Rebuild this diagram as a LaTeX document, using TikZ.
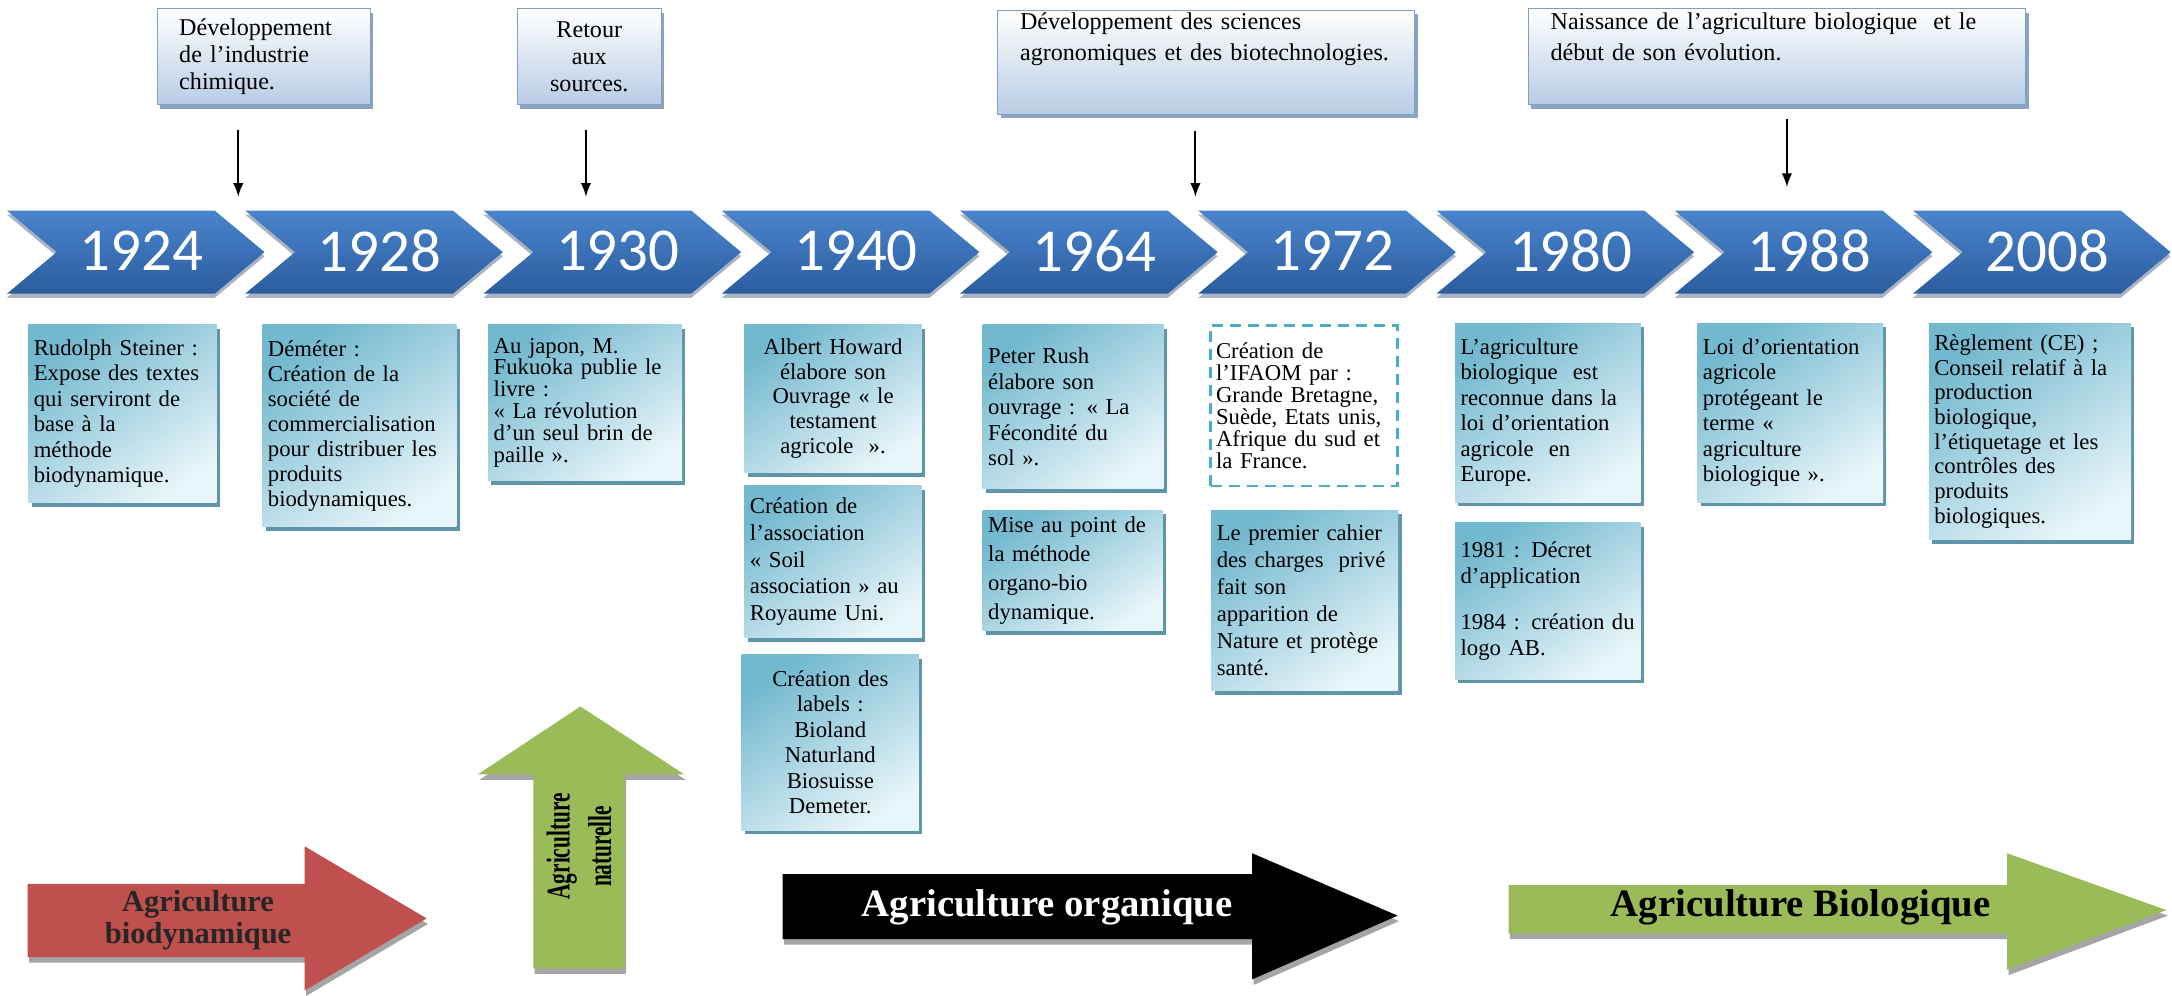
\documentclass[tikz,border=0pt]{standalone}
\usepackage{fontspec}
\setmainfont{Liberation Serif}
\newfontfamily\yearfont{Carlito}
\usepackage{graphicx}
\usetikzlibrary{arrows}
\usetikzlibrary{shadows}
\definecolor{ChevTop}{HTML}{4A84CC}
\definecolor{ChevBottom}{HTML}{2B5C9F}
\definecolor{ChevShadow}{HTML}{A9B4C2}
\definecolor{TopFill}{HTML}{B8CCE4}
\definecolor{TopEdge}{HTML}{7F9FC8}
\definecolor{TopShadow}{HTML}{8BA3BF}
\definecolor{DetDark}{HTML}{72B8CF}
\definecolor{DetLight}{HTML}{E8F5F9}
\definecolor{DetShadow}{HTML}{5E95A8}
\definecolor{DashCyan}{HTML}{4BACC6}
\definecolor{BioRed}{HTML}{C0504D}
\definecolor{BioGreen}{HTML}{9BBB59}
\definecolor{ArrowShade}{HTML}{A5A5A5}

\begin{document}
\begin{tikzpicture}[x=0.5pt, y=-0.5pt,
  topbox/.style={anchor=north west, draw=TopEdge, top color=white, bottom color=TopFill,
    inner xsep=8pt, inner ysep=0pt, font=\fontsize{8.7}{9.8}\selectfont,
    drop shadow={shadow xshift=1pt, shadow yshift=-1.5pt, fill=TopShadow, opacity=1}},
  note/.style={anchor=north west, inner xsep=2pt, inner ysep=1pt, align=left,
    font=\fontsize{8.2}{9.2}\selectfont},
  detail/.style={note, top color=DetDark, bottom color=DetLight, shading angle=35,
    drop shadow={shadow xshift=1.2pt, shadow yshift=-1.5pt, fill=DetShadow, opacity=1}},
  dashbox/.style={note, fill=white, draw=DashCyan, line width=0.9pt, dash pattern=on 4pt off 2.5pt},
  year/.style={text=white, font=\yearfont\fontsize{22}{24}\selectfont},
  pointer/.style={-latex, line width=0.7pt},
  arrowshape/.style={preaction={fill=ArrowShade, transform canvas={xshift=0.5pt, yshift=-2pt}}},
  banner/.style={font=\bfseries\fontsize{14}{16}\selectfont, align=center}]

  \useasboundingbox (0,0) rectangle (1568,719);

  % timeline
  \foreach \yr [count=\i from 0] in {1924,1928,1930,1940,1964,1972,1980,1988,2008}{%
    \pgfmathsetmacro{\xs}{5+172*\i}
    \shade[top color=ChevTop, bottom color=ChevBottom,
      preaction={fill=ChevShadow, transform canvas={yshift=-1.5pt}}]
      (\xs,152) -- ++(150,0) -- ++(36,30) -- ++(-36,30) -- ++(-150,0) -- ++(36,-30) -- cycle;
    \node[year] (y\yr) at (\xs+97,181) {\yr};
  }

  % periods above the timeline
  \node[topbox, align=left, text width=61pt, minimum height=34.5pt] (t1) at (113,6)
    {Développement\\de l’industrie\\chimique.};
  \node[topbox, align=center, text width=36pt, minimum height=34.5pt] (t2) at (373,6)
    {Retour\\aux\\sources.};
  \node[topbox, align=left, text width=134.5pt, minimum height=37.5pt,
    font=\fontsize{8.7}{11}\selectfont] (t3) at (720,7)
    {Développement des sciences\\agronomiques et des biotechnologies.\\[4pt]\strut};
  \node[topbox, align=left, text width=163.5pt, minimum height=34.5pt,
    font=\fontsize{8.7}{11}\selectfont] (t4) at (1103,6)
    {Naissance de l’agriculture biologique~ et le\\début de son évolution.\\\strut};

  \coordinate (q1) at (172,142);
  \coordinate (q2) at (423,142);
  \coordinate (q3) at (863,142);
  \coordinate (q4) at (1290,135);
  \draw[pointer, shorten <=9pt] (t1.south -| q1) -- (q1);
  \draw[pointer, shorten <=9pt] (t2.south -| q2) -- (q2);
  \draw[pointer, shorten <=6pt] (t3.south -| q3) -- (q3);
  \draw[pointer, shorten <=5pt] (t4.south -| q4) -- (q4);

  % events
  \node[detail, text width=64pt, minimum height=64.3pt] (d1) at (20,234)
    {Rudolph Steiner~:\\Expose des textes\\qui serviront de\\base à la\\méthode\\biodynamique.};
  \node[detail, text width=66pt, minimum height=73pt, font=\fontsize{8.2}{9}\selectfont] (d2) at (189,234)
    {Déméter~:\\Création de la\\société de\\commercialisation\\pour distribuer les\\produits\\biodynamiques.};
  \node[detail, text width=66pt, minimum height=56.3pt, font=\fontsize{8.2}{7.9}\selectfont] (d3) at (352,234)
    {Au japon, M.\\Fukuoka publie le\\livre~:\\«~La révolution\\d’un seul brin de\\paille~».};
  \node[detail, align=center, text width=60pt, minimum height=53.3pt, font=\fontsize{8.2}{9}\selectfont] (d4) at (537,234)
    {Albert Howard\\élabore son\\Ouvrage «~le\\testament\\agricole~~».};
  \node[detail, text width=60pt, minimum height=55pt, font=\fontsize{8.2}{9.7}\selectfont] (d5) at (537,350)
    {Création de\\l’association\\«~Soil\\association~» au\\Royaume Uni.};
  \node[detail, align=center, text width=60pt, minimum height=63.5pt] (d6) at (535,472)
    {Création des\\labels~:\\Bioland\\Naturland\\Biosuisse\\Demeter.};
  \node[detail, text width=61.3pt, minimum height=59.3pt] (d7) at (709,234)
    {Peter Rush\\élabore son\\ouvrage~: «~La\\Fécondité du\\sol~».};
  \node[detail, text width=61pt, minimum height=43.5pt, font=\fontsize{8.2}{10.4}\selectfont] (d8) at (709,368)
    {Mise au point de\\la méthode\\organo-bio\\dynamique.};
  \node[dashbox, text width=63.5pt, minimum height=58pt, font=\fontsize{8.2}{8}\selectfont] (d9) at (873,234)
    {Création de\\l’IFAOM par~:\\Grande Bretagne,\\Suède, Etats unis,\\Afrique du sud et\\la France.};
  \node[detail, text width=63.5pt, minimum height=65pt, font=\fontsize{8.2}{9.8}\selectfont] (d10) at (874,368)
    {Le premier cahier\\des charges~ privé\\fait son\\apparition de\\Nature et protège\\santé.};
  \node[detail, text width=63pt, minimum height=64.5pt] (d11) at (1050,233)
    {L’agriculture\\biologique~ est\\reconnue dans la\\loi d’orientation\\agricole~ en\\Europe.};
  \node[detail, text width=63pt, minimum height=56.5pt] (d12) at (1050,377)
    {1981~: Décret\\d’application\\[7.5pt]1984~: création du\\logo AB.};
  \node[detail, text width=63pt, minimum height=64.5pt] (d13) at (1225,233)
    {Loi d’orientation\\agricole\\protégeant le\\terme~«\\agriculture\\biologique~».};
  \node[detail, text width=69pt, minimum height=78pt, font=\fontsize{8.2}{8.9}\selectfont] (d14) at (1392,233)
    {Règlement (CE)~;\\Conseil relatif à la\\production\\biologique,\\l’étiquetage et les\\contrôles des\\produits\\biologiques.};

  % kinds of agriculture
  \fill[BioRed, arrowshape] (20,638) -- (220,638) -- (220,611) -- (308,663)
    -- (220,715) -- (220,691) -- (20,691) -- cycle;
  \node[banner, font=\bfseries\fontsize{11}{11.5}\selectfont, text=black!85] (biodyn) at (143,664)
    {Agriculture\\biodynamique};

  \fill[BioGreen, arrowshape] (385,699) -- (385,559) -- (345,559) -- (419,510)
    -- (494,559) -- (451,559) -- (451,699) -- cycle;
  \node[banner, rotate=90, font=\bfseries\fontsize{12}{15}\selectfont] (natur) at (418,611)
    {\scalebox{0.64}[1]{Agriculture}\\\scalebox{0.64}[1]{naturelle}};

  \fill[black, arrowshape] (565,631) -- (904,631) -- (904,616) -- (1009,661)
    -- (904,707) -- (904,678) -- (565,678) -- cycle;
  \node[banner, text=white] (organ) at (756,655) {Agriculture organique};

  \fill[BioGreen, arrowshape] (1089,639) -- (1449,639) -- (1449,616) -- (1564,657)
    -- (1449,700) -- (1449,674) -- (1089,674) -- cycle;
  \node[banner] (biolog) at (1300,655) {Agriculture Biologique};
\end{tikzpicture}
\end{document}
